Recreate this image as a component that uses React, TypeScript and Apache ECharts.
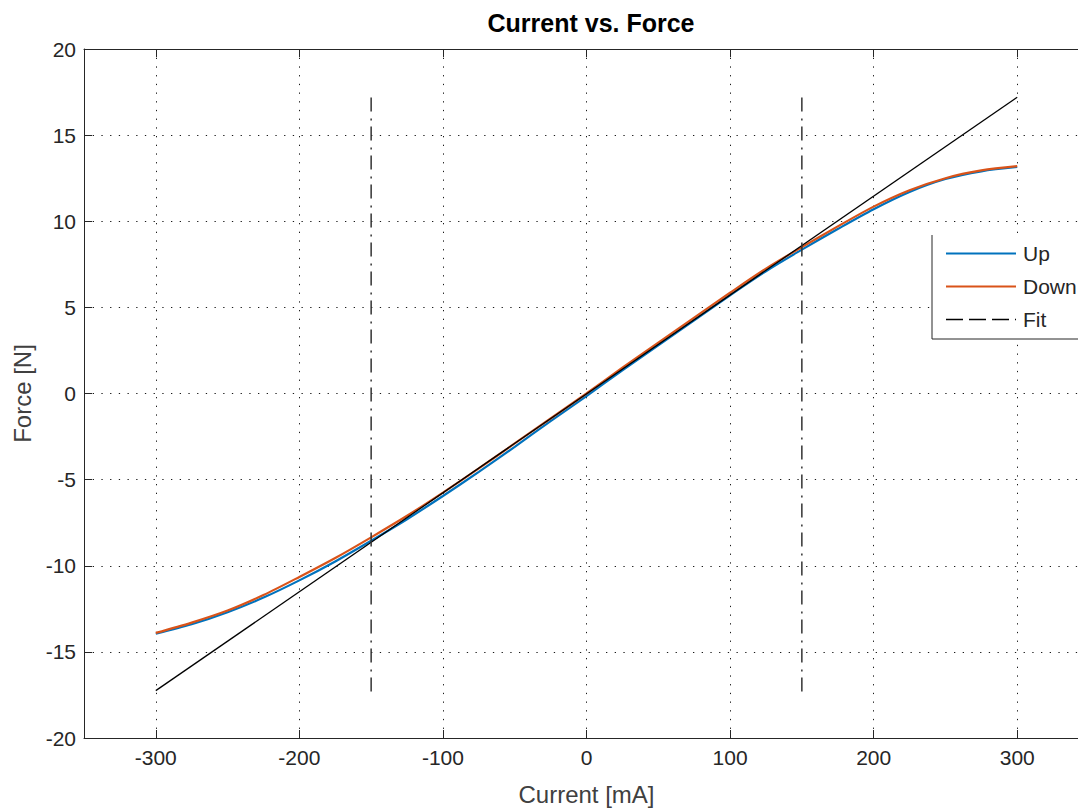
import React, { useEffect, useRef } from "react";
import * as echarts from "echarts";

const currents = [-300, -275, -250, -225, -200, -175, -150, -125, -100, -75, -50, -25, 0, 25, 50, 75, 100, 125, 150, 175, 200, 225, 250, 275, 300];
const downForce = [-13.9, -13.3, -12.6, -11.7, -10.65, -9.55, -8.35, -7.1, -5.75, -4.35, -2.9, -1.45, 0.0, 1.5, 2.95, 4.4, 5.85, 7.25, 8.5, 9.7, 10.85, 11.8, 12.5, 12.95, 13.2];
const upForce = [-13.95, -13.4, -12.7, -11.85, -10.85, -9.75, -8.55, -7.3, -5.95, -4.55, -3.1, -1.6, -0.15, 1.35, 2.8, 4.25, 5.7, 7.1, 8.35, 9.55, 10.7, 11.7, 12.45, 12.9, 13.15];
const fitCurrents = [-300, 300];
const fitForce = [-17.25, 17.2];
const rangeCurrents = [-150, 150];
const rangeForce = [-17.3, 17.2];

const xMin = -350, xMax = 350, yMin = -20, yMax = 20;

export default function App() {
  const ref = useRef<HTMLDivElement>(null);
  useEffect(() => {
    if (!ref.current) return;
    const chart = echarts.init(ref.current, undefined, { renderer: "svg" });
    const font = "Liberation Sans, Arial, sans-serif";
    const txt = "#262626";
    const pair = (xs: number[], ys: number[]) => xs.map((x, i) => [x, ys[i]]);
    const dotted = { color: "#1a1a1a", width: 1, type: [1.3, 7.4] as any };
    const baseX = {
      type: "value", min: xMin, max: xMax, splitNumber: 7,
      axisLine: { show: true, onZero: false, lineStyle: { color: txt, width: 1 } },
      axisTick: { show: true, inside: true, length: 8, lineStyle: { color: txt } },
    };
    const baseY = {
      type: "value", min: yMin, max: yMax, splitNumber: 8,
      axisLine: { show: true, onZero: false, lineStyle: { color: txt, width: 1 } },
      axisTick: { show: true, inside: true, length: 8, lineStyle: { color: txt } },
    };
    chart.setOption({
      animation: false,
      backgroundColor: "#fff",
      title: {
        text: "Current vs. Force", left: 586, top: 5, textAlign: "center",
        textStyle: { fontFamily: font, fontSize: 25, fontWeight: "bold", color: "#000" },
      },
      grid: { left: 84, right: 11, top: 49, bottom: 69 },
      xAxis: [
        {
          ...baseX, position: "bottom",
          name: "Current [mA]", nameLocation: "middle", nameGap: 44,
          nameTextStyle: { fontFamily: font, fontSize: 24, color: "#404040" },
          axisLabel: { show: true, fontFamily: font, fontSize: 21, color: txt, margin: 9, showMinLabel: false, showMaxLabel: false },
          splitLine: { show: true, lineStyle: dotted },
        },
        { ...baseX, position: "top", axisLabel: { show: false }, splitLine: { show: false } },
      ],
      yAxis: [
        {
          ...baseY, position: "left",
          name: "Force [N]", nameLocation: "middle", nameGap: 47,
          nameTextStyle: { fontFamily: font, fontSize: 24, color: "#404040" },
          axisLabel: { show: true, fontFamily: font, fontSize: 21, color: txt, margin: 8 },
          splitLine: { show: true, lineStyle: dotted },
        },
        { ...baseY, position: "right", axisLabel: { show: false }, splitLine: { show: false } },
      ],
      legend: {
        orient: "vertical", left: 945, top: 243, padding: 0, itemGap: 12,
        itemWidth: 70, itemHeight: 14, z: 10,
        itemStyle: { opacity: 0 },
        textStyle: { fontFamily: font, fontSize: 21, color: txt, padding: [0, 0, 0, 2] },
        data: [
          { name: "Up" },
          { name: "Down" },
          { name: "Fit", lineStyle: { type: [17, 6], width: 1.5, color: "#000" } },
        ],
      },
      graphic: [
        { type: "rect", z: 5, shape: { x: 932, y: 235, width: 200, height: 104 }, style: { fill: "#fff" } },
        { type: "polyline", z: 6, shape: { points: [[932, 235], [932, 339], [1100, 339]] }, style: { stroke: txt, lineWidth: 1, fill: "none" } },
      ],
      series: [
        {
          name: "Fit", type: "line", data: pair(fitCurrents, fitForce), symbol: "none",
          lineStyle: { color: "#000", width: 1.3 }, itemStyle: { color: "#000" }, z: 3,
        },
        {
          name: "Up", type: "line", data: pair(currents, upForce), symbol: "none", smooth: 0.3,
          lineStyle: { color: "#0072BD", width: 2.2 }, itemStyle: { color: "#0072BD" }, z: 2,
        },
        {
          name: "Down", type: "line", data: pair(currents, downForce), symbol: "none", smooth: 0.3,
          lineStyle: { color: "#D95319", width: 2.2 }, itemStyle: { color: "#D95319" }, z: 2,
        },
        {
          name: "rangeLow", type: "line", data: [[rangeCurrents[0], rangeForce[0]], [rangeCurrents[0], rangeForce[1]]], symbol: "none",
          lineStyle: { color: "#333", width: 1.5, type: [14, 6, 2, 7] }, z: 3,
        },
        {
          name: "rangeHigh", type: "line", data: [[rangeCurrents[1], rangeForce[0]], [rangeCurrents[1], rangeForce[1]]], symbol: "none",
          lineStyle: { color: "#333", width: 1.5, type: [14, 6, 2, 7] }, z: 3,
        },
      ],
    });
    return () => chart.dispose();
  }, []);
  return (
    <div style={{ position: "fixed", left: 0, top: 0, width: 1078, height: 811, overflow: "hidden", background: "#fff" }}>
      <div ref={ref} style={{ width: 1100, height: 811 }} />
    </div>
  );
}
